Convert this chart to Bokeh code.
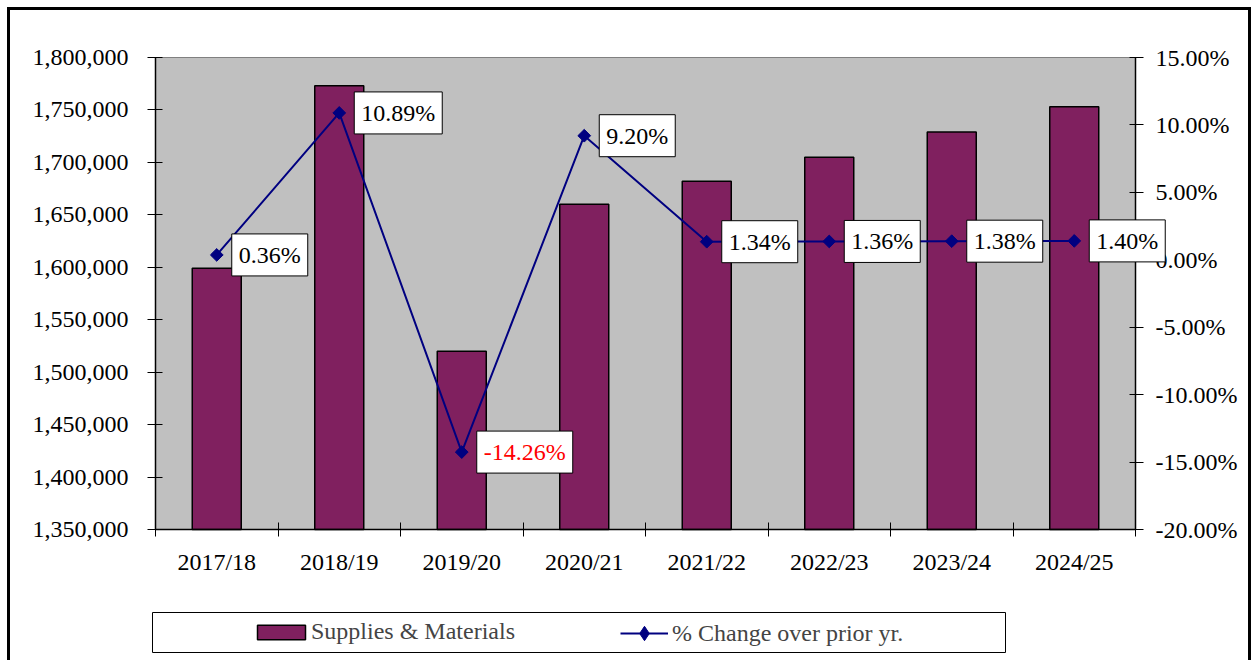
import math
from bokeh.plotting import figure
from bokeh.models import (ColumnDataSource, Range1d, LinearAxis, FixedTicker,
                          NumeralTickFormatter, PrintfTickFormatter, Label,
                          Legend, LegendItem, BoxAnnotation)
from bokeh.embed import file_html
from bokeh.resources import INLINE

years = ["2017/18", "2018/19", "2019/20", "2020/21", "2021/22", "2022/23", "2023/24", "2024/25"]
supplies = [1599000, 1773000, 1520000, 1660000, 1682000, 1705000, 1729000, 1753000]
pct_change = [0.36, 10.89, -14.26, 9.20, 1.34, 1.36, 1.38, 1.40]
left_ticks = [1350000, 1400000, 1450000, 1500000, 1550000, 1600000, 1650000, 1700000, 1750000, 1800000]
right_ticks = [-20, -15, -10, -5, 0, 5, 10, 15]

FONT = "Liberation Serif"
FS = "24px"
W, H = 1244, 653
# plot-area placement on the canvas (pixels)
PL, PR, PT, PB = 145, 1125, 47, 519

n = len(years)
xpos = [i + 0.5 for i in range(n)]
src = ColumnDataSource(dict(x=xpos, year=years, val=supplies, pct=pct_change))

kx = n / (PR - PL)
xr = Range1d(0 - PL * kx, n + (W - PR) * kx)
lo_y, hi_y = left_ticks[0], left_ticks[-1]
k = (hi_y - lo_y) / (PB - PT)
yr = Range1d(lo_y - (H - PB) * k, hi_y + PT * k)
lo_p, hi_p = right_ticks[0], right_ticks[-1]
kp = (hi_p - lo_p) / (PB - PT)
pr = Range1d(lo_p - (H - PB) * kp, hi_p + PT * kp)

p = figure(width=W, height=H, output_backend="svg", toolbar_location=None,
           x_range=xr, y_range=yr,
           min_border_left=0, min_border_right=0, min_border_top=0, min_border_bottom=0)
p.styles = {"margin-left": "7px", "margin-top": "7px",
            "border-left": "3px solid black", "border-top": "3px solid black",
            "border-right": "3px solid black"}
p.extra_y_ranges = {"pct": pr}

p.background_fill_color = "white"
p.border_fill_color = "white"
p.outline_line_color = None
p.xgrid.visible = False
p.ygrid.visible = False

# plot area
p.add_layout(BoxAnnotation(left=0, right=n, bottom=lo_y, top=hi_y,
                           fill_color="#C0C0C0", fill_alpha=1,
                           line_color="#808080", line_alpha=1, line_width=1, level="underlay"))

bars = p.vbar(x="x", top="val", bottom=lo_y, width=0.4, source=src,
              fill_color="#80205F", line_color="black", line_width=1.5)
line = p.line(x="x", y="pct", source=src, y_range_name="pct", line_color="#000080", line_width=2)
pts = p.scatter(x="x", y="pct", source=src, y_range_name="pct", marker="square",
                angle=math.pi / 4, size=9, fill_color="#000080", line_color="#000080")
# hidden diamond renderer used only for the legend symbol
leg_marker = p.scatter(x="x", y="pct", source=src, y_range_name="pct", marker="diamond",
                       size=12, fill_color="#000080", line_color="#000080", visible=False)

# x axis
xa = p.xaxis[0]
xa.fixed_location = lo_y
xa.bounds = (0, n)
xa.ticker = FixedTicker(ticks=xpos, minor_ticks=list(range(n + 1)))
xa.major_label_overrides = {x: y for x, y in zip(xpos, years)}
xa.major_tick_line_color = None
xa.minor_tick_in = 7
xa.minor_tick_out = 7
xa.minor_tick_line_color = "black"
xa.major_label_standoff = 12

# left axis
ya = p.yaxis[0]
ya.fixed_location = 0
ya.bounds = (lo_y, hi_y)
ya.ticker = FixedTicker(ticks=left_ticks)
ya.formatter = NumeralTickFormatter(format="0,0")
ya.major_tick_in = 7
ya.major_tick_out = 8
ya.minor_tick_line_color = None
ya.major_label_standoff = 19

# right axis
ra = LinearAxis(y_range_name="pct", ticker=FixedTicker(ticks=right_ticks),
                formatter=PrintfTickFormatter(format="%.2f%%"),
                fixed_location=n, bounds=(lo_p, hi_p))
ra.major_tick_in = 6
ra.major_tick_out = 8
ra.minor_tick_line_color = None
ra.major_label_standoff = 12
p.add_layout(ra, "right")

for ax in [xa, ya, ra]:
    ax.major_label_text_font = FONT
    ax.major_label_text_font_size = FS
    ax.major_label_text_color = "black"
    ax.axis_line_color = "black"
    ax.axis_line_width = 1.5

for xv, v in zip(xpos, pct_change):
    p.add_layout(Label(x=xv, y=v, y_range_name="pct", text=f"{v:.2f}%",
                       x_offset=15, y_offset=0, text_baseline="middle", text_align="left",
                       text_font=FONT, text_font_size=FS,
                       text_color="red" if v < 0 else "black",
                       background_fill_color="white", border_line_color="black",
                       border_line_width=1, padding=(7, 8)))

# legend box
p.add_layout(BoxAnnotation(left=139, right=992, top=599, bottom=639,
                           left_units="canvas", right_units="canvas",
                           top_units="canvas", bottom_units="canvas",
                           fill_color="white", fill_alpha=1,
                           line_color="black", line_alpha=1, line_width=1))

common = dict(orientation="horizontal", padding=0, margin=0, label_width=0,
              border_line_color=None, background_fill_alpha=0,
              label_text_font=FONT, label_text_font_size=FS, label_height=24)
leg_bar = Legend(items=[LegendItem(label="Supplies & Materials", renderers=[bars])],
                 location=(241, 18), glyph_width=60, glyph_height=18, label_standoff=0, **common)
leg_line = Legend(items=[LegendItem(label="% Change over prior yr.", renderers=[line, leg_marker])],
                  location=(610, 12), glyph_width=48, glyph_height=36, label_standoff=4, **common)
p.add_layout(leg_bar, "center")
p.add_layout(leg_line, "center")

open("out.html", "w").write(file_html(p, INLINE))
